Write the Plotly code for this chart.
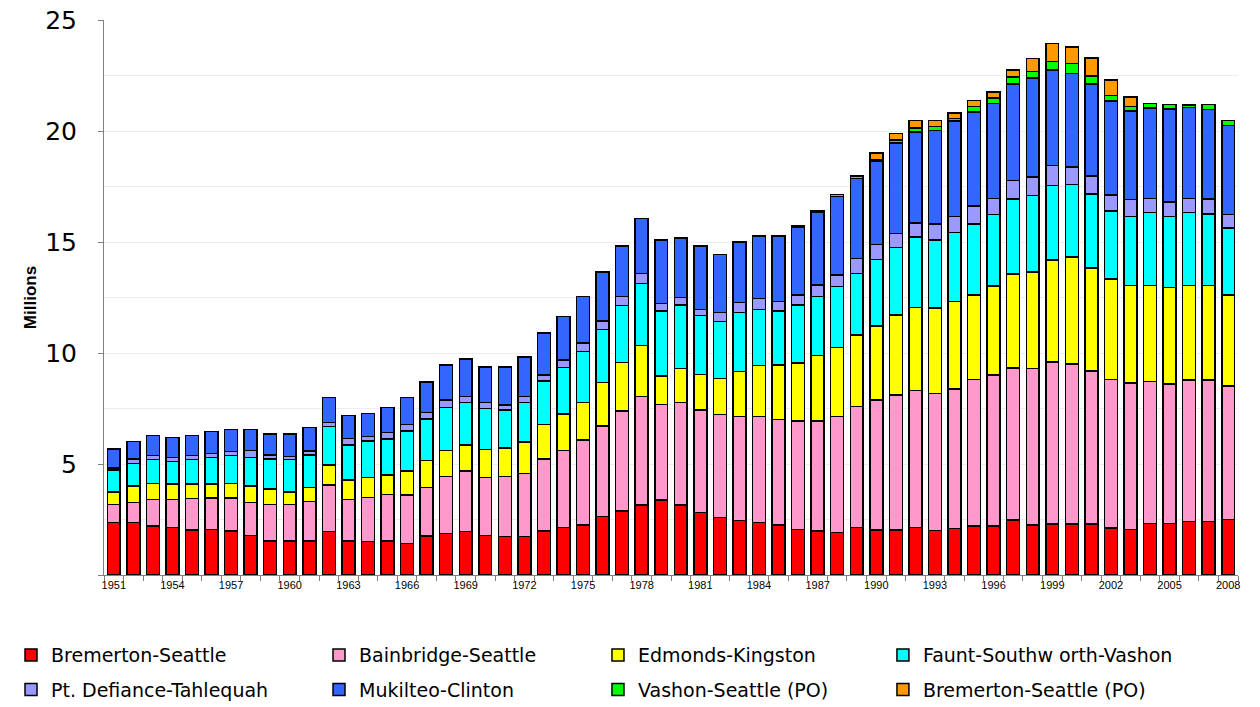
import plotly.graph_objects as go

years = list(range(1951, 2009))

bremerton_seattle = [2.36, 2.37, 2.21, 2.15, 2.03, 2.04, 1.98, 1.77, 1.53, 1.53,
                     1.53, 1.95, 1.53, 1.50, 1.53, 1.43, 1.76, 1.88, 1.95, 1.77,
                     1.73, 1.73, 1.98, 2.15, 2.25, 2.63, 2.88, 3.15, 3.38, 3.15,
                     2.81, 2.58, 2.45, 2.36, 2.25, 2.06, 1.98, 1.91, 2.13, 2.02,
                     2.03, 2.14, 2.00, 2.10, 2.20, 2.20, 2.47, 2.26, 2.30, 2.30,
                     2.30, 2.12, 2.06, 2.33, 2.33, 2.41, 2.41, 2.49]
bainbridge_seattle = [0.82, 0.90, 1.18, 1.26, 1.41, 1.43, 1.49, 1.50, 1.65, 1.65,
                      1.77, 2.10, 1.88, 2.00, 2.10, 2.17, 2.19, 2.55, 2.73, 2.63,
                      2.70, 2.85, 3.25, 3.45, 3.83, 4.08, 4.51, 4.88, 4.31, 4.61,
                      4.62, 4.66, 4.68, 4.77, 4.76, 4.88, 4.96, 5.22, 5.45, 5.86,
                      6.08, 6.16, 6.17, 6.27, 6.60, 6.80, 6.86, 7.05, 7.30, 7.20,
                      6.90, 6.69, 6.59, 6.38, 6.27, 6.38, 6.38, 6.03]
edmonds_kingston = [0.57, 0.75, 0.74, 0.69, 0.67, 0.64, 0.66, 0.75, 0.69, 0.57,
                    0.65, 0.90, 0.87, 0.90, 0.87, 1.08, 1.20, 1.17, 1.18, 1.26,
                    1.28, 1.40, 1.56, 1.65, 1.70, 1.97, 2.19, 2.30, 1.27, 1.55,
                    1.61, 1.61, 2.03, 2.30, 2.45, 2.62, 2.94, 3.11, 3.23, 3.34,
                    3.61, 3.76, 3.85, 3.96, 3.82, 4.02, 4.22, 4.33, 4.60, 4.83,
                    4.63, 4.53, 4.40, 4.34, 4.34, 4.26, 4.26, 4.10]
faunt_southworth_vashon = [0.98, 1.00, 1.08, 1.01, 1.10, 1.18, 1.25, 1.28, 1.36, 1.46,
                           1.46, 1.73, 1.58, 1.64, 1.63, 1.81, 1.88, 1.95, 1.90, 1.85,
                           1.72, 1.80, 1.96, 2.09, 2.28, 2.39, 2.55, 2.81, 2.93, 2.85,
                           2.64, 2.56, 2.67, 2.54, 2.43, 2.60, 2.66, 2.75, 2.78, 3.00,
                           3.03, 3.17, 3.08, 3.10, 3.20, 3.22, 3.38, 3.45, 3.35, 3.25,
                           3.33, 3.06, 3.11, 3.27, 3.22, 3.27, 3.22, 3.01]
pt_defiance_tahlequah = [0.10, 0.20, 0.17, 0.19, 0.17, 0.19, 0.18, 0.30, 0.18, 0.12,
                         0.18, 0.20, 0.28, 0.19, 0.30, 0.28, 0.28, 0.33, 0.27, 0.25,
                         0.23, 0.25, 0.26, 0.34, 0.38, 0.37, 0.41, 0.45, 0.35, 0.35,
                         0.29, 0.42, 0.44, 0.49, 0.42, 0.45, 0.52, 0.52, 0.67, 0.66,
                         0.63, 0.63, 0.72, 0.72, 0.80, 0.73, 0.85, 0.83, 0.90, 0.80,
                         0.81, 0.72, 0.75, 0.64, 0.64, 0.64, 0.66, 0.61]
mukilteo_clinton = [0.85, 0.80, 0.90, 0.89, 0.90, 0.98, 1.00, 0.96, 0.94, 1.02,
                    1.05, 1.12, 1.05, 1.04, 1.11, 1.23, 1.38, 1.58, 1.71, 1.62,
                    1.72, 1.80, 1.90, 1.96, 2.10, 2.21, 2.28, 2.48, 2.85, 2.66,
                    2.85, 2.61, 2.73, 2.81, 2.96, 3.06, 3.26, 3.54, 3.60, 3.78,
                    4.09, 4.10, 4.20, 4.30, 4.23, 4.27, 4.33, 4.47, 4.30, 4.20,
                    4.14, 4.23, 3.99, 4.07, 4.20, 4.10, 4.04, 4.00]
vashon_seattle_po = [0] * 39 + [0.05,
                     0.12, 0.18, 0.18, 0.12, 0.26, 0.25, 0.32, 0.30, 0.38, 0.45,
                     0.37, 0.24, 0.21, 0.22, 0.19, 0.12, 0.22, 0.23]
bremerton_seattle_po = [0] * 35 + [0.05, 0.08, 0.10, 0.12, 0.30,
                        0.30, 0.33, 0.28, 0.23, 0.26, 0.27, 0.31, 0.58, 0.82, 0.75,
                        0.80, 0.71, 0.43, 0, 0, 0, 0, 0]

series_names = ["Bremerton-Seattle", "Bainbridge-Seattle", "Edmonds-Kingston",
                "Faunt-Southw orth-Vashon", "Pt. Defiance-Tahlequah", "Mukilteo-Clinton",
                "Vashon-Seattle (PO)", "Bremerton-Seattle (PO)"]
series_values = [bremerton_seattle, bainbridge_seattle, edmonds_kingston,
                 faunt_southworth_vashon, pt_defiance_tahlequah, mukilteo_clinton,
                 vashon_seattle_po, bremerton_seattle_po]
series_colors = ["#FF0000", "#FF99CC", "#FFFF00", "#00FFFF",
                 "#9999FF", "#3366FF", "#00FF00", "#FF9900"]

y_tick_vals = [0, 5, 10, 15, 20, 25]
y_tick_text = ["", "5", "10", "15", "20", "25"]
x_tick_vals = list(range(1951, 2009, 3))

legend_ids = ["legend", "legend2", "legend3", "legend4"]

fig = go.Figure()
for i, (name, vals, col) in enumerate(zip(series_names, series_values, series_colors)):
    fig.add_trace(go.Bar(
        x=years,
        y=[v if v else None for v in vals],
        name=name,
        marker=dict(color=col, line=dict(color="#000000", width=1.5)),
        legend=legend_ids[i % 4],
        legendgroup=f"g{i}",
    ))

FONT = "Liberation Sans, Arial, sans-serif"
WIDE = "DejaVu Sans, Liberation Sans, sans-serif"
legend_common = dict(
    orientation="v", xanchor="left", yanchor="top", y=-0.11,
    font=dict(size=19, family=WIDE, color="#000000"),
    itemwidth=30, tracegroupgap=7,
    bgcolor="rgba(0,0,0,0)", traceorder="grouped",
)
legend_x = [-0.082, 0.1896, 0.4356, 0.6869]

fig.update_layout(
    barmode="stack",
    bargap=0.34,
    width=1260,
    height=707,
    margin=dict(l=104, r=22, t=20, b=132, autoexpand=False),
    paper_bgcolor="white",
    plot_bgcolor="white",
    font=dict(family=FONT, color="#000000"),
    xaxis=dict(
        range=[1950.5, 2008.5],
        tickvals=x_tick_vals,
        ticks="",
        tickfont=dict(size=11, color="#000000"),
        showline=True,
        linecolor="#808080",
        linewidth=1,
        showgrid=False,
        zeroline=False,
        minor=dict(ticks="outside", tick0=1950.5, dtick=1, ticklen=5,
                   tickcolor="#808080", showgrid=False),
    ),
    yaxis=dict(
        range=[0, 25],
        tickvals=y_tick_vals,
        ticktext=y_tick_text,
        ticks="outside",
        ticklen=5,
        tickcolor="#808080",
        ticklabelstandoff=16,
        ticklabeloverflow="allow",
        tickfont=dict(size=25, family=WIDE, color="#000000"),
        showline=True,
        linecolor="#808080",
        linewidth=1,
        showgrid=False,
        zeroline=False,
        title=dict(text="<b>Millions</b>", font=dict(size=17, color="#000000"), standoff=4),
        minor=dict(tick0=2.5, dtick=2.5, showgrid=True, gridcolor="#ededed", gridwidth=1),
    ),
    legend=dict(x=legend_x[0], **legend_common),
    legend2=dict(x=legend_x[1], **legend_common),
    legend3=dict(x=legend_x[2], **legend_common),
    legend4=dict(x=legend_x[3], **legend_common),
)

fig.write_html("out.html", config={"displayModeBar": False},
               post_script="document.body.style.margin='0';")
